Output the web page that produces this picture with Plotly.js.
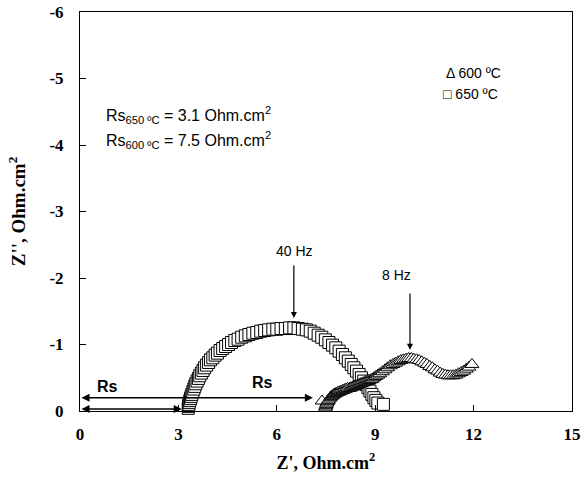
<!DOCTYPE html>
<html>
<head>
<meta charset="utf-8">
<script src="https://cdn.plot.ly/plotly-3.0.1.min.js"></script>
<style>
  html, body { margin: 0; padding: 0; background: #fff; }
  #chart { width: 585px; height: 478px; }
</style>
</head>
<body>
<div id="chart"></div>
<script>
// Impedance spectra (Nyquist), Z' vs Z'' in Ohm.cm2
const z650Re = [3.30, 3.31, 3.32, 3.33, 3.35, 3.37, 3.39, 3.41, 3.44, 3.47, 3.50,
  3.53, 3.57, 3.61, 3.65, 3.70, 3.75, 3.80, 3.86, 3.92, 3.98,
  4.05, 4.12, 4.19, 4.27, 4.35, 4.44, 4.53, 4.62, 4.72, 4.82,
  4.93, 5.04, 5.15, 5.27, 5.39, 5.51, 5.63, 5.75, 5.88, 6.00,
  6.13, 6.26, 6.39, 6.52, 6.65, 6.78, 6.90, 7.02, 7.14, 7.26,
  7.37, 7.48, 7.59, 7.70, 7.80, 7.90, 8.00, 8.09, 8.18, 8.27,
  8.35, 8.43, 8.51, 8.58, 8.65, 8.72, 8.78, 8.84, 8.90, 8.96,
  9.02, 9.08, 9.25];
const z650Im = [-0.04, -0.07, -0.10, -0.13, -0.16, -0.19, -0.22, -0.25, -0.29, -0.33, -0.37,
  -0.41, -0.45, -0.49, -0.53, -0.57, -0.61, -0.65, -0.69, -0.73, -0.77,
  -0.80, -0.84, -0.87, -0.91, -0.94, -0.97, -1.00, -1.03, -1.06, -1.08,
  -1.11, -1.13, -1.15, -1.17, -1.18, -1.20, -1.21, -1.22, -1.23, -1.23,
  -1.24, -1.24, -1.25, -1.25, -1.24, -1.23, -1.22, -1.20, -1.17, -1.14,
  -1.11, -1.07, -1.03, -0.99, -0.95, -0.90, -0.85, -0.80, -0.75, -0.70,
  -0.65, -0.60, -0.55, -0.50, -0.45, -0.40, -0.35, -0.30, -0.25, -0.20,
  -0.16, -0.12, -0.10];

const z600Re = [7.38, 7.48, 7.49, 7.50, 7.51, 7.53, 7.55, 7.57, 7.60, 7.63, 7.66,
  7.70, 7.74, 7.78, 7.82, 7.86, 7.91, 7.96, 8.01, 8.06, 8.11,
  8.16, 8.21, 8.26, 8.31, 8.36, 8.41, 8.46, 8.51, 8.56, 8.61,
  8.66, 8.71, 8.76, 8.81, 8.86, 8.91, 8.96, 9.02, 9.08, 9.14,
  9.22, 9.30, 9.38, 9.46, 9.54, 9.62, 9.70, 9.78, 9.86, 9.94,
  10.02, 10.10, 10.18, 10.26, 10.34, 10.42, 10.50, 10.58, 10.66, 10.74,
  10.82, 10.90, 10.98, 11.06, 11.14, 11.22, 11.30, 11.38, 11.46, 11.54,
  11.62, 11.70, 11.78, 11.86, 11.95];
const z600Im = [-0.15, -0.04, -0.06, -0.08, -0.10, -0.12, -0.14, -0.16, -0.18, -0.20, -0.22,
  -0.23, -0.25, -0.26, -0.27, -0.28, -0.29, -0.30, -0.31, -0.32, -0.33,
  -0.34, -0.34, -0.35, -0.36, -0.37, -0.38, -0.39, -0.40, -0.41, -0.42,
  -0.43, -0.44, -0.45, -0.46, -0.47, -0.48, -0.50, -0.52, -0.54, -0.56,
  -0.59, -0.62, -0.65, -0.68, -0.70, -0.72, -0.74, -0.76, -0.77, -0.78,
  -0.79, -0.79, -0.78, -0.77, -0.76, -0.74, -0.72, -0.70, -0.67, -0.65,
  -0.62, -0.60, -0.57, -0.55, -0.54, -0.53, -0.53, -0.53, -0.54, -0.56,
  -0.58, -0.60, -0.63, -0.66, -0.70];

// Series resistance values and the Rs arrow extents
const rsValues = [3.1, 7.5];           // 650 °C, 600 °C
const rsArrowEnds = [3.1, 7.1];        // lower arrow, upper arrow
const rsArrowLevels = [-0.03, -0.2];

const xTicks = [0, 3, 6, 9, 12, 15];
const yTicks = [0, -1, -2, -3, -4, -5, -6];
const yTickText = ['0', '-1', '-2', '-3', '-4', '-5', '-6'];

const serifBold = { family: 'Liberation Serif, Times New Roman, serif', size: 17, color: '#000', weight: 'bold' };
const sans = { family: 'Liberation Sans, Arial, sans-serif', size: 16, color: '#000' };
const sans14 = { family: 'Liberation Sans, Arial, sans-serif', size: 14, color: '#000' };
const sansBold = { family: 'Liberation Sans, Arial, sans-serif', size: 16, color: '#000', weight: 'bold' };

const traces = [
  {
    x: z650Re, y: z650Im, type: 'scatter', mode: 'markers', name: '650 ºC',
    marker: { symbol: 'square', size: 12, color: '#fff', line: { color: '#000', width: 1 } },
    cliponaxis: false
  },
  {
    x: z600Re, y: z600Im, type: 'scatter', mode: 'markers', name: '600 ºC',
    marker: { symbol: 'triangle-up', size: 12, color: '#fff', line: { color: '#000', width: 1 } },
    cliponaxis: false
  }
];

const annotations = [
  { x: 0.73, y: -4.45, xanchor: 'left', yanchor: 'middle', showarrow: false, font: sans,
    text: 'Rs<sub>650 ºC</sub> = ' + rsValues[0] + ' Ohm.cm<sup>2</sup>' },
  { x: 0.73, y: -4.07, xanchor: 'left', yanchor: 'middle', showarrow: false, font: sans,
    text: 'Rs<sub>600 ºC</sub> = ' + rsValues[1] + ' Ohm.cm<sup>2</sup>' },
  { x: 11.1, y: -5.08, xanchor: 'left', yanchor: 'middle', showarrow: false, font: sans14, text: '\u0394 600 ºC' },
  { x: 11.0, y: -4.77, xanchor: 'left', yanchor: 'middle', showarrow: false, font: sans14, text: '\u25A1 650 ºC' },
  { x: 6.55, y: -2.41, showarrow: false, font: sans14, text: '40 Hz' },
  { x: 9.66, y: -2.05, showarrow: false, font: sans14, text: '8 Hz' },
  // frequency pointers
  { x: 6.52, y: -1.40, ax: 6.52, ay: -2.21, axref: 'x', ayref: 'y', text: '', showarrow: true,
    arrowhead: 2, arrowsize: 1, arrowwidth: 1.2, arrowcolor: '#000' },
  { x: 10.06, y: -0.92, ax: 10.06, ay: -1.79, axref: 'x', ayref: 'y', text: '', showarrow: true,
    arrowhead: 2, arrowsize: 1, arrowwidth: 1.2, arrowcolor: '#000' },
  // Rs spans
  { x: rsArrowEnds[0], y: rsArrowLevels[0], ax: 0, ay: rsArrowLevels[0], axref: 'x', ayref: 'y', text: '',
    showarrow: true, arrowside: 'end+start', arrowhead: 2, arrowsize: 1, arrowwidth: 1.6, arrowcolor: '#000' },
  { x: rsArrowEnds[1], y: rsArrowLevels[1], ax: 0, ay: rsArrowLevels[1], axref: 'x', ayref: 'y', text: '',
    showarrow: true, arrowside: 'end+start', arrowhead: 2, arrowsize: 1, arrowwidth: 1.6, arrowcolor: '#000' },
  { x: 0.85, y: -0.37, showarrow: false, text: 'Rs', font: sansBold },
  { x: 5.55, y: -0.43, showarrow: false, text: 'Rs', font: sansBold }
];

const layout = {
  width: 585, height: 478,
  margin: { l: 80, r: 13, t: 12, b: 67 },
  paper_bgcolor: '#fff', plot_bgcolor: '#fff',
  showlegend: false,
  xaxis: {
    range: [0, 15], tickmode: 'array', tickvals: xTicks,
    ticks: 'inside', ticklen: 6, tickcolor: '#000', tickwidth: 1,
    showline: true, linecolor: '#000', linewidth: 1, mirror: true,
    showgrid: false, zeroline: false, tickfont: serifBold, ticklabelstandoff: 8,
    title: { text: "Z', Ohm.cm<sup>2</sup>", font: { family: serifBold.family, size: 18, color: '#000', weight: 'bold' }, standoff: 12 }
  },
  yaxis: {
    range: [0, -6], tickmode: 'array', tickvals: yTicks, ticktext: yTickText,
    ticks: 'inside', ticklen: 6, tickcolor: '#000', tickwidth: 1,
    showline: true, linecolor: '#000', linewidth: 1, mirror: true,
    showgrid: false, zeroline: false, tickfont: serifBold, ticklabelstandoff: 12,
    title: { text: "Z'', Ohm.cm<sup>2</sup>", font: { family: serifBold.family, size: 19, color: '#000', weight: 'bold' }, standoff: 18 }
  },
  annotations: annotations
};

Plotly.newPlot('chart', traces, layout, { staticPlot: true, displayModeBar: false });
</script>
</body>
</html>
